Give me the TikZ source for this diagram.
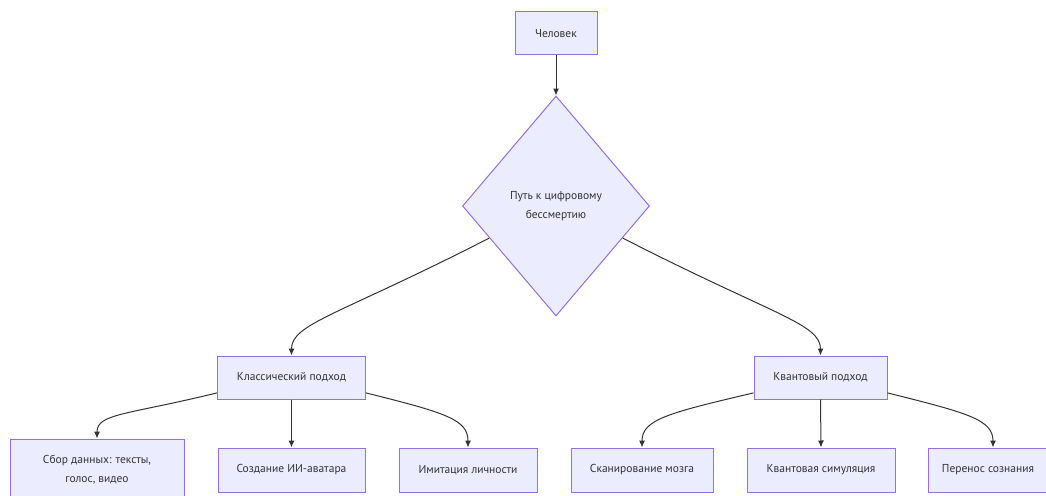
\documentclass[tikz,border=0pt]{standalone}
\usepackage{fontspec}
\setmainfont{PT Sans}
\usetikzlibrary{shapes.geometric,arrows.meta,calc}
\definecolor{nodefill}{HTML}{ECECFF}
\definecolor{nodeline}{HTML}{9370DB}
\definecolor{txt}{HTML}{333333}
\definecolor{edge}{HTML}{333333}
\tikzset{
  box/.style={draw=nodeline,fill=nodefill,line width=1pt,text=txt,inner sep=0pt,
    align=center,font=\fontsize{11.5}{19}\selectfont,rectangle},
  decision/.style={box,diamond,aspect=1},
  conn/.style={draw=edge,line width=1pt,-{Latex[length=7pt,width=6pt]}},
}
\begin{document}
\begin{tikzpicture}[x=1pt,y=-1pt]
\useasboundingbox (0,0) rectangle (1046,495);
\clip (0,0) rectangle (1046,495);
\fill[white] (0,0) rectangle (1046,495);
% nodes
\node[box,minimum width=82pt,minimum height=43pt] (human) at (556,33.5) {Человек};
\node[decision,minimum width=187pt,minimum height=220pt] (path) at (556,206) {Путь к цифровому\\бессмертию};
\node[box,minimum width=148pt,minimum height=43pt] (klass) at (291.5,377.5) {Классический подход};
\node[box,minimum width=133pt,minimum height=43pt] (kvant) at (820.5,377.5) {Квантовый подход};
\node[box,minimum width=174pt,minimum height=62pt] (sbor) at (97,470) {Сбор данных: тексты,\\голос, видео};
\node[box,minimum width=147pt,minimum height=44pt] (sozd) at (291.5,470) {Создание ИИ-аватара};
\node[box,minimum width=138pt,minimum height=44pt] (imit) at (468,470) {Имитация личности};
\node[box,minimum width=142pt,minimum height=44pt] (skan) at (642,470) {Сканирование мозга};
\node[box,minimum width=148pt,minimum height=44pt] (ksim) at (821,470) {Квантовая симуляция};
\node[box,minimum width=120pt,minimum height=44pt] (pere) at (988,470) {Перенос сознания};
% connector end points on borders
\coordinate (pL) at ($(path.west)!0.29!(path.south)$);
\coordinate (pR) at ($(path.east)!0.29!(path.south)$);
\coordinate (kL) at ($(klass.south west)!0.15!(klass.north west)$);
\coordinate (kR) at ($(klass.south east)!0.15!(klass.north east)$);
\coordinate (qL) at ($(kvant.south west)!0.15!(kvant.north west)$);
\coordinate (qR) at ($(kvant.south east)!0.15!(kvant.north east)$);
\coordinate (pereIn) at ($(pere.north)+(5,0)$);
% connectors
\draw[conn] (human) -- (path.north);
\draw[conn] (pL) .. controls ($(pL)+(-150,77)$) and ($(klass.north)+(0,-32)$) .. (klass.north);
\draw[conn] (pR) .. controls ($(pR)+(150,77)$) and ($(kvant.north)+(0,-32)$) .. (kvant.north);
\draw[conn] (kL) .. controls ($(kL)+(-90,22)$) and ($(sbor.north)+(0,-25)$) .. (sbor.north);
\draw[conn] (klass) -- (sozd);
\draw[conn] (kR) .. controls ($(kR)+(80,20)$) and ($(imit.north)+(0,-28)$) .. (imit.north);
\draw[conn] (qL) .. controls ($(qL)+(-85,20)$) and ($(skan.north)+(0,-28)$) .. (skan.north);
\draw[conn] (kvant.south) -- (ksim.north);
\draw[conn] (qR) .. controls ($(qR)+(80,20)$) and ($(pereIn)+(0,-28)$) .. (pereIn);
\end{tikzpicture}
\end{document}
